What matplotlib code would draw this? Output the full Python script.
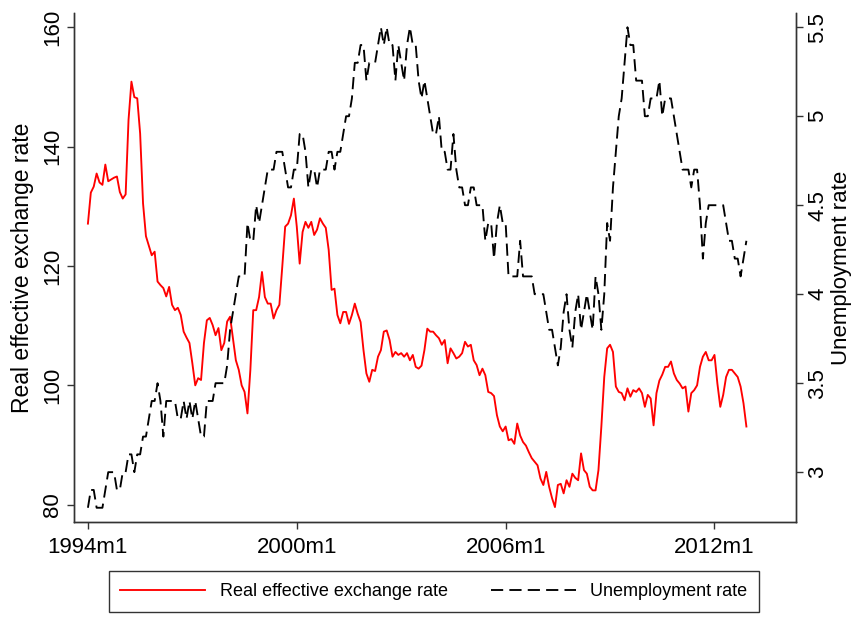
import matplotlib
matplotlib.use("Agg")
import matplotlib.pyplot as plt
import numpy as np

plt.rcParams['font.family'] = ['Liberation Sans', 'DejaVu Sans']

# Monthly data, 1994m1 .. 2012m12
start_year = 1994
reer = [
    127.1, 132.3, 133.3, 135.5, 134.0, 133.6, 137.0, 134.2, 134.5, 134.8, 135.0, 132.4,
    131.3, 132.0, 144.5, 150.9, 148.3, 148.1, 142.2, 130.5, 125.0, 123.4, 121.8, 122.4,
    117.4, 116.8, 116.3, 114.9, 116.5, 113.5, 112.6, 113.0, 111.8, 109.0, 108.0, 107.1,
    103.7, 100.0, 101.2, 100.9, 107.1, 110.9, 111.3, 110.1, 108.4, 109.6, 105.9, 107.1,
    110.7, 111.5, 107.9, 104.2, 102.6, 100.0, 98.9, 95.3, 102.6, 112.6, 112.6, 114.8,
    119.0, 114.8, 113.7, 113.7, 111.2, 112.6, 113.5, 119.9, 126.6, 127.1, 128.5, 131.3,
    126.6, 120.4, 125.7, 127.4, 126.4, 127.4, 125.2, 126.1, 128.0, 127.1, 126.4, 122.7,
    116.0, 116.2, 111.8, 110.4, 112.3, 112.3, 110.3, 111.8, 113.7, 112.0, 110.6, 105.9,
    102.0, 100.6, 102.6, 102.4, 104.8, 105.9, 109.0, 109.2, 107.6, 104.8, 105.6, 105.1,
    105.4, 104.8, 105.4, 104.2, 105.1, 103.1, 102.8, 103.3, 105.9, 109.5, 109.0, 109.0,
    108.4, 107.9, 106.8, 107.6, 103.7, 106.2, 105.4, 104.5, 104.8, 105.4, 107.3, 106.5,
    106.8, 104.2, 103.4, 101.7, 102.8, 101.7, 98.9, 98.7, 98.2, 95.0, 93.1, 92.3,
    93.1, 90.8, 91.0, 90.2, 93.6, 91.6, 90.5, 89.9, 88.8, 87.8, 87.2, 86.6,
    84.4, 83.3, 85.5, 83.0, 81.1, 79.6, 83.3, 83.5, 81.9, 84.1, 83.0, 85.2,
    84.5, 84.1, 88.6, 85.8, 85.2, 83.0, 82.4, 82.4, 85.8, 93.1, 101.4, 106.2,
    106.8, 105.6, 99.8, 98.9, 98.7, 97.5, 99.5, 98.1, 99.2, 98.9, 99.5, 98.7,
    96.4, 98.4, 97.8, 93.3, 98.7, 100.8, 101.8, 103.1, 103.1, 104.0, 102.0, 100.9,
    100.3, 99.5, 99.8, 95.6, 98.7, 99.2, 100.0, 103.1, 104.8, 105.6, 104.2, 104.2,
    105.1, 100.3, 96.4, 98.4, 101.4, 102.6, 102.6, 102.0, 101.4, 99.8, 97.0, 93.1,
]
unemp = [
    2.8, 2.9, 2.9, 2.8, 2.8, 2.8, 2.9, 3.0, 3.0, 3.0, 2.9, 2.9,
    3.0, 3.0, 3.1, 3.1, 3.0, 3.1, 3.1, 3.2, 3.2, 3.3, 3.4, 3.4,
    3.5, 3.4, 3.2, 3.4, 3.4, 3.4, 3.4, 3.3, 3.3, 3.4, 3.3, 3.4,
    3.3, 3.4, 3.3, 3.2, 3.2, 3.4, 3.4, 3.4, 3.5, 3.5, 3.5, 3.5,
    3.6, 3.8, 3.9, 4.0, 4.1, 4.1, 4.1, 4.4, 4.3, 4.3, 4.5, 4.4,
    4.5, 4.6, 4.7, 4.7, 4.7, 4.8, 4.8, 4.8, 4.7, 4.6, 4.6, 4.7,
    4.7, 4.9, 4.9, 4.8, 4.6, 4.7, 4.7, 4.6, 4.7, 4.7, 4.7, 4.8,
    4.8, 4.7, 4.8, 4.8, 4.9, 5.0, 5.0, 5.1, 5.3, 5.3, 5.4, 5.4,
    5.2, 5.3, 5.3, 5.3, 5.4, 5.5, 5.4, 5.5, 5.4, 5.4, 5.2, 5.4,
    5.3, 5.2, 5.4, 5.5, 5.4, 5.4, 5.2, 5.1, 5.2, 5.1, 5.0, 4.9,
    4.9, 5.0, 4.8, 4.8, 4.7, 4.7, 4.9, 4.7, 4.6, 4.6, 4.5, 4.5,
    4.6, 4.6, 4.5, 4.5, 4.5, 4.3, 4.4, 4.4, 4.2, 4.4, 4.5, 4.4,
    4.4, 4.1, 4.1, 4.1, 4.1, 4.3, 4.1, 4.1, 4.1, 4.1, 4.0, 4.0,
    4.0, 4.0, 3.9, 3.8, 3.8, 3.7, 3.6, 3.7, 3.9, 4.0, 3.8, 3.7,
    3.9, 4.0, 3.8, 3.9, 4.0, 3.9, 3.8, 4.1, 4.0, 3.8, 4.0, 4.4,
    4.3, 4.6, 4.8, 5.0, 5.1, 5.3, 5.5, 5.4, 5.4, 5.2, 5.2, 5.2,
    5.0, 5.0, 5.1, 5.1, 5.1, 5.2, 5.0, 5.1, 5.1, 5.1, 5.0, 4.9,
    4.8, 4.7, 4.7, 4.7, 4.6, 4.7, 4.7, 4.5, 4.2, 4.4, 4.5, 4.5,
    4.5, 4.5, 4.5, 4.5, 4.4, 4.3, 4.3, 4.2, 4.2, 4.1, 4.2, 4.3,
]
xtick_months = [0, 72, 144, 216]
xtick_labels = ["1994m1", "2000m1", "2006m1", "2012m1"]
left_ticks = [80, 100, 120, 140, 160]
right_ticks = [3, 3.5, 4, 4.5, 5, 5.5]
right_tick_labels = ["3", "3.5", "4", "4.5", "5", "5.5"]

months = np.arange(len(reer))

fig = plt.figure(figsize=(8.57, 6.17), dpi=100)
ax = fig.add_axes([74/857, 1-522/617, (796-74)/857, (522-13)/617])
ax2 = ax.twinx()

l1, = ax.plot(months, reer, color=(1, 0, 0), lw=1.35, solid_joinstyle='round')
l2, = ax2.plot(months[:len(unemp)], unemp, color='black', lw=1.35,
               linestyle=(0, (6.5, 3.3)))

ax.set_xlim(-4.8, 244.1)
ax.set_ylim(77.1, 162.4)
ax2.set_ylim(2.72, 5.58)

tick_fs = 16
ax.set_xticks(xtick_months)
ax.set_xticklabels(xtick_labels, fontsize=tick_fs)
ax.set_yticks(left_ticks)
ax.set_yticklabels([str(t) for t in left_ticks], fontsize=tick_fs, rotation=90, va='center')
ax2.set_yticks(right_ticks)
ax2.set_yticklabels(right_tick_labels, fontsize=tick_fs, rotation=90, va='center')

for a in (ax, ax2):
    a.tick_params(direction='out', length=5, width=1, color='#333333')
    a.spines['top'].set_visible(False)
    for s in a.spines.values():
        s.set_linewidth(1)
        s.set_color('#333333')
ax.tick_params(axis='x', pad=6)
ax.tick_params(axis='y', pad=3)
ax2.tick_params(axis='y', pad=3)

ax.set_ylabel("Real effective exchange rate", fontsize=16.5, labelpad=6)
ax2.set_ylabel("Unemployment rate", fontsize=16, labelpad=2)

leg = fig.legend([l1, l2], ["Real effective exchange rate", "Unemployment rate"],
                 loc='center', bbox_to_anchor=(434/857, 1-591.5/617), ncol=2,
                 fontsize=13, frameon=True, fancybox=False, edgecolor='black',
                 handlelength=4.7, handletextpad=0.8, columnspacing=2.4,
                 borderpad=0.65, borderaxespad=0)
leg.get_frame().set_linewidth(1)

fig.savefig("out.png", dpi=100)
